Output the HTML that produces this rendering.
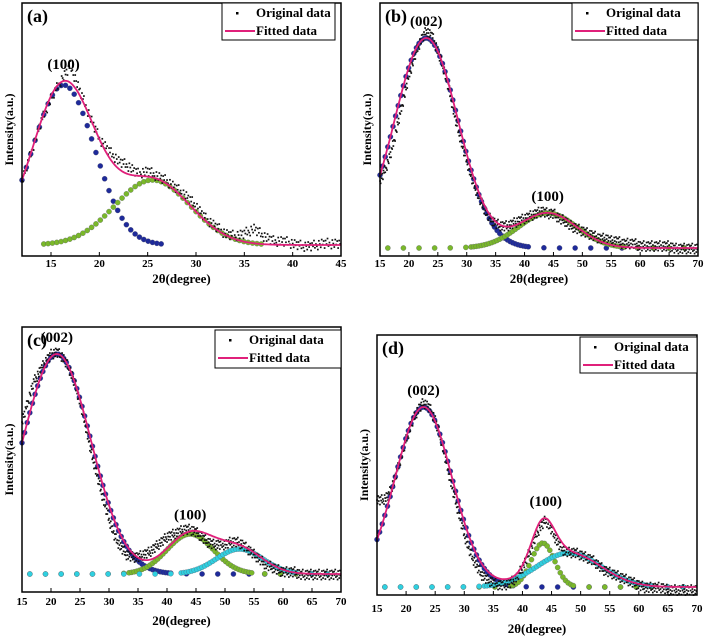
<!DOCTYPE html>
<html><head><meta charset="utf-8"><style>
html,body{margin:0;padding:0;background:#fff;}
svg{display:block;font-family:"Liberation Serif",serif;}
</style></head><body>
<svg id="fig" width="708" height="640" viewBox="0 0 708 640"></svg>
<script>
// ---- data (intensity in arbitrary units, 2θ in degrees) ----
const xStartA = 12, xStartB = 15, xStartC = 15, xStartD = 15;
const observedA = [30,42,54,63,70,76,66,56,47,42,38,36,33,34,32,30,27,24,20,15,12,9,8,9,11,8,6,6,5,4,4,5,5,5];
const observedB = [30,35,42,52,62,72,80,86,90,88,82,75,66,55,46,38,30,24,19,15,13,12,12,13,14,15,16,17,18,17,17,15,14,12,11,10,9,8,7,7,6,6,5,5,5,4,4,4,4,4,4,3,3,3,3,3];
const observedC = [68,76,84,88,92,95,96,94,90,84,76,66,55,46,37,29,22,18,15,14,14,15,16,18,20,22,23,24,25,25,24,22,20,19,19,19,20,20,19,17,15,13,11,10,9,8,8,8,7,7,7,7,7,7,7,7];
const observedD = [38,38,40,46,54,62,69,74,77,75,70,62,52,42,33,24,17,12,8,6,5,4,4,5,7,11,16,22,27,30,26,21,18,17,17,16,15,14,12,10,9,8,7,6,5,4,3,3,3,3,2,2,2,2,2,2];
// fitted peaks: [center, amplitude, sigma]
const baselines = [4.4, 3.2, 7.2, 3.2];
const peaksA = [[16.3,64,3.2],[25.5,26,3.9]];
const peaksB = [[23,84,5.5],[44,14,5]];
const peaksC = [[21,88,5.9],[44,16,4],[52.5,10,4]];
const peaksD = [[23,72,4.9],[43.5,17.6,2],[48,13.6,5.5]];
const peakLabelsA = [["(100)",16.3]];
const peakLabelsB = [["(002)",23],["(100)",44]];
const peakLabelsC = [["(002)",21],["(100)",44]];
const peakLabelsD = [["(002)",23],["(100)",44]];
const ticksA = [15,20,25,30,35,40,45];
const ticksB = [15,20,25,30,35,40,45,50,55,60,65,70];

const NS = "http://www.w3.org/2000/svg";
const svg = document.getElementById('fig');
function mk(tag, attrs, parent){const e=document.createElementNS(NS,tag);for(const k in attrs)e.setAttribute(k,attrs[k]);(parent||svg).appendChild(e);return e;}
const jitter=[0,3.5,-4,1,-2.5,4.5,-3,0.5,-5,2.5,-1,1.5,5,-3.5];
const compColors=['#1e2a9a','#7ab82a','#2fd0e0'];

const panels=[
 {id:'a',x0:22,x1:341,y0:3,y1:256,xmin:12,xmax:45,ticks:ticksA,obs:observedA,xs:xStartA,peaks:peaksA,labels:peakLabelsA,leg:[222,3,113,37],tickY:267,xlabY:283},
 {id:'b',x0:380,x1:698,y0:3,y1:256,xmin:15,xmax:70,ticks:ticksB,obs:observedB,xs:xStartB,peaks:peaksB,labels:peakLabelsB,leg:[572,3,126,37],tickY:267,xlabY:283},
 {id:'c',x0:22,x1:341,y0:327,y1:592,xmin:15,xmax:70,ticks:ticksB,obs:observedC,xs:xStartC,peaks:peaksC,labels:peakLabelsC,leg:[215,330,126,38],tickY:605,xlabY:625},
 {id:'d',x0:377,x1:697,y0:335,y1:595,xmin:15,xmax:70,ticks:ticksB,obs:observedD,xs:xStartD,peaks:peaksD,labels:peakLabelsD,leg:[580,337,117,36],tickY:612,xlabY:633}
];

panels.forEach((p,pi)=>{
 const g=mk('g',{});
 
 
 const X=v=>p.x0+(v-p.xmin)/(p.xmax-p.xmin)*(p.x1-p.x0);
 const Y=v=>p.y1-v*2.5;
 const base=baselines[pi];
 const gauss=(pk,x)=>pk[1]*Math.exp(-((x-pk[0])**2)/(2*pk[2]*pk[2]));
 p.peaks.forEach((pk,ci)=>{
  const cg=mk('g',{},g);
  
  
  for(let x=p.xmin;x<=p.xmax;x+=0.45){
   const v=gauss(pk,x);
   if(v<0.4 && (Math.round(x*10)%27>2)) continue;
   mk('circle',{cx:X(x),cy:Y(base+v),r:2.6,fill:compColors[ci],stroke:'#556',"stroke-width":0.3},cg);
  }
 });
 const og=mk('g',{},g);
 
 
 let k=0;
 for(let i=0;i<p.obs.length-1;i++){
  for(let s=0;s<10;s++){
   const t=s/10, x=p.xs+i+t, v=p.obs[i]*(1-t)+p.obs[i+1]*t;
   mk('rect',{x:X(x)-0.8,y:Y(v)+jitter[k%14]-0.8,width:1.7,height:1.7,fill:'#111'},og);
   k++;
  }
 }
 let dstr='';
 for(let x=p.xmin;x<=p.xmax+0.001;x+=0.2){
  let v=base;p.peaks.forEach(pk=>v+=gauss(pk,x));
  dstr+=(dstr?'L':'M')+X(x).toFixed(1)+','+Y(v).toFixed(1);
 }
 const fl=mk('path',{d:dstr,fill:'none',stroke:'#e0207a','stroke-width':1.8},g);
 
 
 const fr=mk('rect',{x:p.x0,y:p.y0,width:p.x1-p.x0,height:p.y1-p.y0,fill:'none',stroke:'#000','stroke-width':1.5},g);
 
 
 p.ticks.forEach(t=>{
  mk('line',{x1:X(t),x2:X(t),y1:p.y1,y2:p.y1-4,stroke:'#000','stroke-width':1},g);
  const tl=mk('text',{x:X(t),y:p.tickY,'font-size':11,'font-weight':'bold','text-anchor':'middle'},g);
  tl.textContent=t;
  
  
 });
 const xl=mk('text',{x:(p.x0+p.x1)/2,y:p.xlabY,'font-size':13,'font-weight':'bold','text-anchor':'middle'},g);
 xl.textContent='2θ(degree)';
 
 
 const yl=mk('text',{x:0,y:0,'font-size':12,'font-weight':'bold','text-anchor':'middle',transform:`translate(${p.x0-9},${(p.y0+p.y1)/2}) rotate(-90)`},g);
 yl.textContent='Intensity(a.u.)';
 
 
 const pl=mk('text',{x:p.x0+5,y:p.y0+19,'font-size':18,'font-weight':'bold'},g);
 pl.textContent='('+p.id+')';
 
 
 p.labels.forEach(l=>{
  let v=base;p.peaks.forEach(pk=>v+=gauss(pk,l[1]));
  const tx=mk('text',{x:X(l[1]),y:Y(v)-12,'font-size':15,'font-weight':'bold','text-anchor':'middle'},g);
  tx.textContent=l[0];
  
  
 });
 const [lx,ly,lw,lh]=p.leg;
 const lg=mk('g',{},g);
 
 
 mk('rect',{x:lx,y:ly,width:lw,height:lh,fill:'#fff',stroke:'#000','stroke-width':1},lg);
 mk('rect',{x:lx+14,y:ly+9,width:2.5,height:2.5,fill:'#000'},lg);
 const t1=mk('text',{x:lx+34,y:ly+14,'font-size':13,'font-weight':'bold'},lg);
 t1.textContent='Original data';
 
 
 mk('line',{x1:lx+3,x2:lx+33,y1:ly+28,y2:ly+28,stroke:'#e0207a','stroke-width':2},lg);
 const t2=mk('text',{x:lx+34,y:ly+32,'font-size':13,'font-weight':'bold'},lg);
 t2.textContent='Fitted data';
 
 
});
</script>
</body></html>
